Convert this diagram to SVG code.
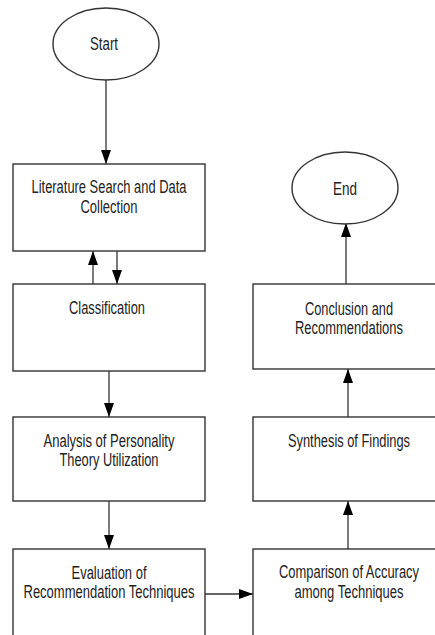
<svg xmlns="http://www.w3.org/2000/svg" width="435" height="635" viewBox="0 0 435 635">
<defs>
<style>
.box{fill:#fff;stroke:#333;stroke-width:1.4}
.t{font-family:"Liberation Sans Narrow","Liberation Sans",Arial,sans-serif;font-size:17.5px;fill:#222;text-anchor:middle}
.c{fill:none;stroke:#333;stroke-width:1.3}
</style>
<marker id="ah" viewBox="0 0 14 10" refX="14" refY="5" markerWidth="14" markerHeight="10" markerUnits="userSpaceOnUse" orient="auto">
<path d="M0,0 L14,5 L0,10 z" fill="#000"/>
</marker>
</defs>
<rect width="435" height="635" fill="#fff"/>
<g id="connectors">
<line class="c" x1="106" y1="80" x2="106" y2="164" marker-end="url(#ah)"/>
<line class="c" x1="93" y1="284" x2="93" y2="251" marker-end="url(#ah)"/>
<line class="c" x1="117" y1="251" x2="117" y2="284" marker-end="url(#ah)"/>
<line class="c" x1="109" y1="371" x2="109" y2="417" marker-end="url(#ah)"/>
<line class="c" x1="109" y1="501" x2="109" y2="549" marker-end="url(#ah)"/>
<line class="c" x1="205" y1="594" x2="253" y2="594" marker-end="url(#ah)"/>
<line class="c" x1="348" y1="549" x2="348" y2="501" marker-end="url(#ah)"/>
<line class="c" x1="348" y1="417" x2="348" y2="369" marker-end="url(#ah)"/>
<line class="c" x1="346" y1="284" x2="346" y2="223" marker-end="url(#ah)"/>
</g>
<g id="start">
<ellipse class="box" cx="106" cy="44" rx="53" ry="36"/>
<text class="t" x="104" y="50" textLength="28" lengthAdjust="spacingAndGlyphs">Start</text>
</g>
<g id="literature">
<rect class="box" x="13" y="164" width="192" height="87"/>
<text class="t" x="109" y="193" textLength="155" lengthAdjust="spacingAndGlyphs">Literature Search and Data</text>
<text class="t" x="109" y="213" textLength="57" lengthAdjust="spacingAndGlyphs">Collection</text>
</g>
<g id="classification">
<rect class="box" x="13" y="284" width="192" height="87"/>
<text class="t" x="107" y="314" textLength="76" lengthAdjust="spacingAndGlyphs">Classification</text>
</g>
<g id="analysis">
<rect class="box" x="13" y="417" width="192" height="84"/>
<text class="t" x="109" y="447" textLength="131" lengthAdjust="spacingAndGlyphs">Analysis of Personality</text>
<text class="t" x="109" y="466" textLength="99" lengthAdjust="spacingAndGlyphs">Theory Utilization</text>
</g>
<g id="evaluation">
<rect class="box" x="13" y="549" width="192" height="95"/>
<text class="t" x="109" y="579" textLength="75" lengthAdjust="spacingAndGlyphs">Evaluation of</text>
<text class="t" x="109" y="598" textLength="171" lengthAdjust="spacingAndGlyphs">Recommendation Techniques</text>
</g>
<g id="comparison">
<rect class="box" x="253" y="549" width="192" height="95"/>
<text class="t" x="349" y="578" textLength="140" lengthAdjust="spacingAndGlyphs">Comparison of Accuracy</text>
<text class="t" x="349" y="598" textLength="109" lengthAdjust="spacingAndGlyphs">among Techniques</text>
</g>
<g id="synthesis">
<rect class="box" x="253" y="417" width="192" height="84"/>
<text class="t" x="349" y="447" textLength="122" lengthAdjust="spacingAndGlyphs">Synthesis of Findings</text>
</g>
<g id="conclusion">
<rect class="box" x="253" y="284" width="192" height="85"/>
<text class="t" x="349" y="315" textLength="88" lengthAdjust="spacingAndGlyphs">Conclusion and</text>
<text class="t" x="349" y="334" textLength="108" lengthAdjust="spacingAndGlyphs">Recommendations</text>
</g>
<g id="end">
<ellipse class="box" cx="345" cy="188" rx="53" ry="36"/>
<text class="t" x="345" y="195" textLength="24" lengthAdjust="spacingAndGlyphs">End</text>
</g>
</svg>
